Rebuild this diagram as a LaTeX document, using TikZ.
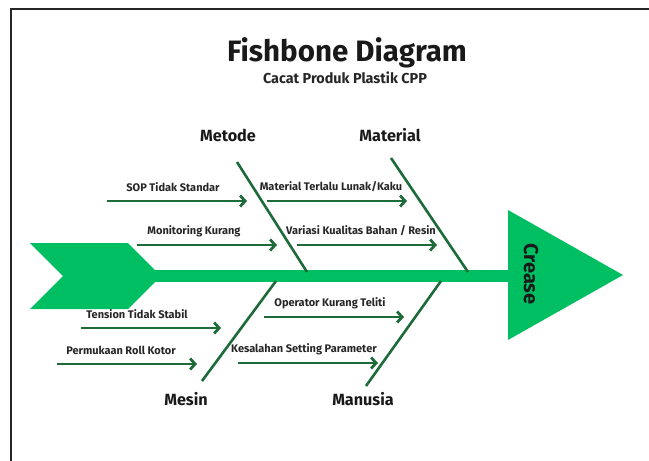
\documentclass[tikz,border=0pt]{standalone}
\usepackage{fontspec}
\setmainfont{Fira Sans}
\usetikzlibrary{arrows.meta,positioning}
\definecolor{fishgreen}{HTML}{00BF63}
\definecolor{bonegreen}{HTML}{1E6B3A}
\tikzset{
  bone/.style={draw=bonegreen,line width=2.6pt},
  causearrow/.style={draw=bonegreen,line width=2.8pt,-{Straight Barb[length=5pt,width=11pt]}},
  causelbl/.style={font=\bfseries\fontsize{11}{13}\selectfont,text=black!85,inner sep=0pt},
  catlbl/.style={font=\bfseries\fontsize{16.2}{18}\selectfont,text=black!90,inner sep=0pt}
}

\begin{document}
\begin{tikzpicture}[x=1pt,y=-1pt]
\useasboundingbox (0,0) rectangle (649,461);
\draw[line width=2pt,black!85] (11,470) -- (11,9) -- (660,9);

% title
\node[font=\bfseries\fontsize{29.5}{32}\selectfont,text=black!90] (title) at (347,53) {Fishbone Diagram};
\node[font=\bfseries\fontsize{14.4}{16}\selectfont,text=black!85] (subtitle) at (345,78) {Cacat Produk Plastik CPP};

% fish body
\fill[fishgreen] (30,243) -- (128,243) -- (161,276) -- (128,309) -- (30,309) -- (63,276) -- cycle;
\coordinate (spineL) at (150,276);
\coordinate (spineR) at (512,276);
\draw[fishgreen,line width=12pt] (spineL) -- (spineR);
\fill[fishgreen] (508,210) -- (623,275) -- (508,340) -- cycle;
\node[rotate=-90,font=\bfseries\fontsize{20}{22}\selectfont,text=black!90] (effect) at (531,274) {Crease};

% bones
\coordinate (metodeT) at (237,162);
\coordinate (metodeB) at (307,272);
\coordinate (materialT) at (391,158);
\coordinate (materialB) at (468,272);
\coordinate (mesinT) at (276,281);
\coordinate (mesinB) at (202,381);
\coordinate (manusiaT) at (441,281);
\coordinate (manusiaB) at (366,386);
\draw[bone] (metodeT) -- (metodeB);
\draw[bone] (materialT) -- (materialB);
\draw[bone] (mesinT) -- (mesinB);
\draw[bone] (manusiaT) -- (manusiaB);

\node[catlbl] (metode) at (228,135) {Metode};
\node[catlbl] (material) at (390,135) {Material};
\node[catlbl] (mesin) at (186,399) {Mesin};
\node[catlbl] (manusia) at (363,399) {Manusia};

% causes
\def\causes{1/107/201/173/{SOP Tidak Standar},2/137/245/194/{Monitoring Kurang},
  3/267/201/331/{Material Terlalu Lunak/Kaku},4/297/245/361/{Variasi Kualitas Bahan / Resin},
  5/81/328/137/{Tension Tidak Stabil},6/57/364/121/{Permukaan Roll Kotor},
  7/264/317/330/{Operator Kurang Teliti},8/238/363/304/{Kesalahan Setting Parameter}}
\foreach \i / \x / \y / \lx / \txt in \causes {
  \coordinate (s\i) at (\x,\y);
  \coordinate (t\i) at (\x+140,\y);
  \draw[causearrow] (s\i) -- (t\i);
  \node[causelbl] (c\i) at (\lx,\y-14) {\txt};
}

\end{tikzpicture}
\end{document}
